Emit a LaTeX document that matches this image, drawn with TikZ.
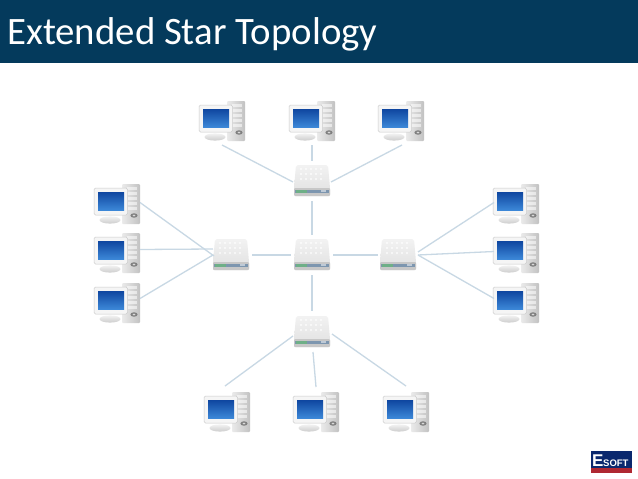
\documentclass[tikz,border=0pt]{standalone}
\usepackage{fontspec}
\setmainfont{Carlito}
\newfontfamily\logofont{Liberation Sans}
\usetikzlibrary{calc}
\definecolor{band}{RGB}{4,58,92}
\definecolor{linkc}{RGB}{200,216,228}
\definecolor{scrA}{RGB}{15,70,160}
\definecolor{scrB}{RGB}{60,135,215}
\definecolor{stripA}{RGB}{125,150,175}
\definecolor{stripB}{RGB}{110,175,135}
\definecolor{logoblue}{RGB}{10,40,110}
\definecolor{logored}{RGB}{175,40,50}
\tikzset{
  x=1pt,y=-1pt,
  link/.style={draw=linkc,line width=1.3pt},
  pcnode/.style={inner sep=0pt,outer sep=0pt,minimum width=46pt,minimum height=41pt},
  swnode/.style={inner sep=0pt,outer sep=0pt,minimum width=36pt,minimum height=32pt},
}
\newcommand{\pcdev}[3]{%
  \node[pcnode,anchor=north west] (#1) at (#2,#3) {};
  \begin{scope}[shift={(#2,#3)}]
    \shade[left color=black!8,right color=black!24,rounded corners=1pt] (28,1) rectangle (46,41);
    \foreach \yy in {4,9,14,19,24}{\fill[white,opacity=.55] (33,\yy) rectangle (43,\yy+3.4);}
    \fill[black!50] (40,32.5) ellipse (3.6 and 2.2);
    \fill[black!15] (40,32.5) ellipse (1.4 and 1);
    \shade[top color=black!5,bottom color=black!20] (16,37) ellipse (10.5 and 3.6);
    \fill[black!4,rounded corners=1.5pt] (0,5) rectangle (33.5,32);
    \draw[black!20,line width=.5pt,rounded corners=1.5pt] (0,5) rectangle (33.5,32);
    \shade[top color=scrA,bottom color=scrB] (4,9) rectangle (30,27);
  \end{scope}
}
\newcommand{\swdev}[3]{%
  \node[swnode,anchor=north west] (#1) at (#2,#3) {};
  \begin{scope}[shift={(#2,#3)}]
    \shade[top color=black!5,bottom color=black!12,rounded corners=2pt] (2,0) -- (34,0) -- (36,23) -- (36,31) -- (0,31) -- (0,23) -- cycle;
    \foreach \xx in {7,12,...,27}{\foreach \yy in {4,9,14}{\fill[white,opacity=.8] (\xx,\yy) circle (1.1);}}
    \fill[black!22,rounded corners=1pt] (0,23) rectangle (36,31);
    \fill[stripA] (1,24.5) rectangle (35,28);
    \fill[stripB] (2,24.8) rectangle (13,27.8);
    \fill[white,opacity=.5] (27,25) rectangle (32,27);
  \end{scope}
}
\begin{document}
\begin{tikzpicture}
\useasboundingbox (0,0) rectangle (638,479);
\fill[white] (0,0) rectangle (638,479);
\fill[band] (0,0) rectangle (638,63);
\node[anchor=west,inner sep=0pt,text=white,font=\fontsize{38.8}{40}\selectfont] (title) at (7,34.5) {Extended Star Topology};
\pcdev{ca}{199}{100}\pcdev{cb}{289}{100}\pcdev{cc}{378}{100}
\pcdev{cd}{94}{183}\pcdev{ce}{94}{232}\pcdev{cf}{94}{282}
\pcdev{cg}{493}{183}\pcdev{ch}{493}{232}\pcdev{ci}{493}{282}
\pcdev{cj}{204}{391}\pcdev{ck}{293}{391}\pcdev{cl}{383}{391}
\swdev{st}{294}{165}\swdev{sm}{294}{239}\swdev{sl}{213}{239}\swdev{sr}{380}{239}\swdev{sb}{294}{316}
\draw[link] ([shift={(0,4)}]ca.south) -- ([shift={(-1,1)}]st.west);
\draw[link] ([shift={(0,4)}]cb.south) -- ([shift={(0,-4)}]st.north);
\draw[link] ([shift={(1,4)}]cc.south) -- ([shift={(1,1)}]st.east);
\draw[link] ([shift={(0,4)}]st.south) -- ([shift={(0,-4)}]sm.north);
\draw[link] ([shift={(3,0)}]sl.east) -- ([shift={(-3,0)}]sm.west);
\draw[link] ([shift={(3,0)}]sm.east) -- ([shift={(-2,0)}]sr.west);
\draw[link] ([shift={(0,4)}]sm.south) -- ([shift={(0,-5)}]sb.north);
\draw[link] ([shift={(0,-1)}]cd.east) -- ([shift={(1,1)}]sl.west);
\draw[link] ([shift={(0,-3)}]ce.east) -- ([shift={(0,-6)}]sl.west);
\draw[link] ([shift={(0,-4)}]cf.east) -- ([shift={(0,0)}]sl.west);
\draw[link] ([shift={(1,-1)}]cg.west) -- ([shift={(2,-3)}]sr.east);
\draw[link] ([shift={(1,-1)}]ch.west) -- ([shift={(2,0)}]sr.east);
\draw[link] ([shift={(1,-4)}]ci.west) -- ([shift={(2,0)}]sr.east);
\draw[link] ([shift={(-2,-5)}]cj.north) -- ([shift={(-1,4)}]sb.west);
\draw[link] ([shift={(0,-4)}]ck.north) -- ([shift={(1,4)}]sb.south);
\draw[link] ([shift={(0,-5)}]cl.north) -- ([shift={(2,2)}]sb.east);
\fill[logoblue] (591,451) rectangle (632,468);
\fill[logored] (591,468) rectangle (632,473);
\node[inner sep=0pt,anchor=base west,text=white,font=\logofont\bfseries\fontsize{17}{17}\selectfont] (logoa) at (592,466) {E};
\node[inner sep=0pt,anchor=base west,text=white,font=\logofont\bfseries\fontsize{9.5}{9.5}\selectfont] (logob) at (603,466) {SOFT};
\end{tikzpicture}
\end{document}
